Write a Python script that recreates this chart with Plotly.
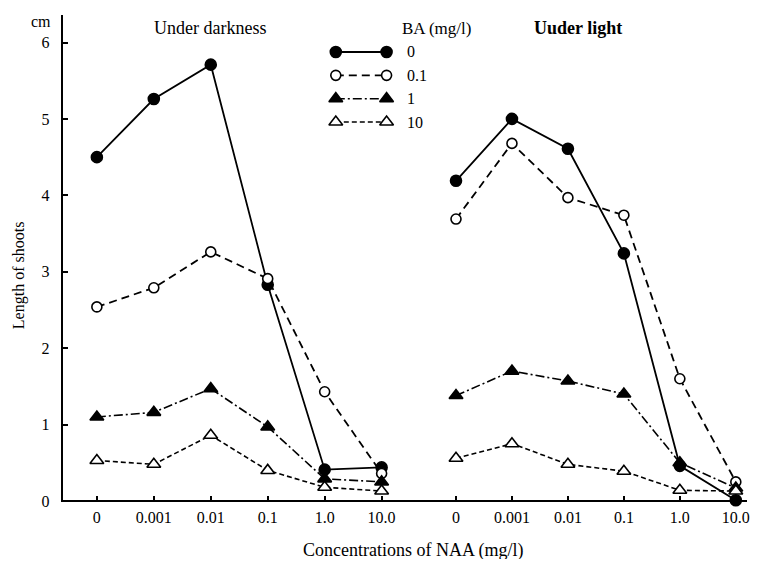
import plotly.graph_objects as go

# ---- data ----
naa_levels = ["0", "0.001", "0.01", "0.1", "1.0", "10.0"]
ba_levels = ["0", "0.1", "1", "10"]

dark_ba0 = [4.50, 5.26, 5.71, 2.83, 0.41, 0.44]
dark_ba01 = [2.54, 2.79, 3.26, 2.91, 1.43, 0.36]
dark_ba1 = [1.10, 1.16, 1.47, 0.97, 0.29, 0.25]
dark_ba10 = [0.53, 0.48, 0.86, 0.40, 0.18, 0.13]

light_ba0 = [4.19, 5.00, 4.61, 3.24, 0.46, 0.01]
light_ba01 = [3.69, 4.68, 3.97, 3.74, 1.60, 0.25]
light_ba1 = [1.38, 1.70, 1.57, 1.40, 0.50, 0.17]
light_ba10 = [0.56, 0.75, 0.48, 0.39, 0.14, 0.13]

y_ticks = [0, 1, 2, 3, 4, 5, 6]

FONT = "Liberation Serif"

styles = [
    dict(symbol="circle", fill="black", size=11, dash="solid", width=1.8),
    dict(symbol="circle", fill="white", size=10, dash="8px,5px", width=1.8),
    dict(symbol="triangle-up", fill="black", size=12, dash="9px,3px,2px,3px", width=1.6),
    dict(symbol="triangle-up", fill="white", size=12, dash="5px,3px", width=1.6),
]

dark = [dark_ba0, dark_ba01, dark_ba1, dark_ba10]
light = [light_ba0, light_ba01, light_ba1, light_ba10]

fig = go.Figure()


def add_series(xs, ys, st, xa, ya, name):
    fig.add_trace(go.Scatter(
        x=xs, y=ys, mode="lines+markers", name=name, showlegend=False,
        xaxis=xa, yaxis=ya, cliponaxis=False,
        line=dict(color="black", width=st["width"], dash=st["dash"]),
        marker=dict(symbol=st["symbol"], size=st["size"], color=st["fill"],
                    line=dict(color="black", width=1.6)),
    ))


for i, st in enumerate(styles):
    add_series(naa_levels, dark[i], st, "x", "y", "BA " + ba_levels[i])
    add_series(naa_levels, light[i], st, "x2", "y", "BA " + ba_levels[i])

# custom legend drawn on its own small axis: two markers per row
for i, st in enumerate(styles):
    add_series([0, 1], [i, i], st, "x3", "y3", "legend " + ba_levels[i])

# page has an 8px body margin; figure is sized to fit inside the window
OFF = 8
W, H = 758 - 2 * OFF, 567 - 2 * OFF
# plot area in window pixels: left 61, right 750, top 15, bottom 501
L = 61 - OFF
R = 0
T = 15 - OFF
B = H - (501 - OFF)
pw = W - L - R
ph = H - T - B


def px_x(p):
    return (p - OFF - L) / pw


def px_y(p):
    return (H - B - (p - OFF)) / ph


tickfont = dict(family=FONT, size=16, color="black")
hidden = dict(showline=False, showgrid=False, zeroline=False, showticklabels=False, ticks="")

fig.update_layout(
    width=W, height=H,
    margin=dict(l=L, r=R, t=T, b=B),
    plot_bgcolor="white", paper_bgcolor="white",
    font=dict(family=FONT, color="black"),
    xaxis=dict(
        domain=[px_x(62.7), px_x(405.9)], range=[-0.6, 5.4],
        type="category", categoryarray=naa_levels, categoryorder="array",
        showgrid=False, zeroline=False, showline=False,
        ticks="inside", ticklen=5, tickwidth=1.5, tickcolor="black",
        tickfont=tickfont, anchor="y", ticklabelstandoff=5,
        ticklabeloverflow="allow",
    ),
    xaxis2=dict(
        domain=[px_x(424.0), 1.0], range=[-0.6, 5.2],
        type="category", categoryarray=naa_levels, categoryorder="array",
        showgrid=False, zeroline=False, showline=False,
        ticks="inside", ticklen=5, tickwidth=1.5, tickcolor="black",
        tickfont=tickfont, anchor="y", ticklabelstandoff=5,
        ticklabeloverflow="allow",
    ),
    yaxis=dict(
        domain=[0, 1], range=[0, 6.36],
        tickvals=y_ticks, ticktext=[str(v) for v in y_ticks],
        showgrid=False, zeroline=False, showline=True, linecolor="black", linewidth=1.8,
        ticks="inside", ticklen=5, tickwidth=1.5, tickcolor="black",
        tickfont=tickfont, anchor="x", position=0, ticklabelstandoff=8,
    ),
    xaxis3=dict(domain=[px_x(337), px_x(388)], range=[0, 1], anchor="y3", **hidden),
    yaxis3=dict(domain=[px_y(133.7), px_y(40.3)], range=[3.5, -0.5], anchor="x3", **hidden),
    shapes=[
        dict(type="line", xref="paper", yref="paper", x0=0, x1=1, y0=0, y1=0,
             line=dict(color="black", width=1.8), layer="above"),
    ],
)

annotations = [
    dict(text="Under darkness", x=px_x(211), y=px_y(28), xref="paper", yref="paper",
         showarrow=False, font=dict(family=FONT, size=18), xanchor="center", yanchor="middle"),
    dict(text="<b>Uuder light</b>", x=px_x(580), y=px_y(28), xref="paper", yref="paper",
         showarrow=False, font=dict(family=FONT, size=18), xanchor="center", yanchor="middle"),
    dict(text="BA (mg/l)", x=px_x(401), y=px_y(28), xref="paper", yref="paper",
         showarrow=False, font=dict(family=FONT, size=17), xanchor="left", yanchor="middle"),
    dict(text="cm", x=px_x(41), y=px_y(21), xref="paper", yref="paper",
         showarrow=False, font=dict(family=FONT, size=16), xanchor="center", yanchor="middle"),
    dict(text="Length of shoots", x=px_x(19), y=px_y(275), xref="paper", yref="paper",
         showarrow=False, textangle=-90, font=dict(family=FONT, size=16),
         xanchor="center", yanchor="middle"),
    dict(text="Concentrations of NAA (mg/l)", x=px_x(415), y=px_y(550), xref="paper", yref="paper",
         showarrow=False, font=dict(family=FONT, size=18), xanchor="center", yanchor="middle"),
]
for i, lab in enumerate(ba_levels):
    annotations.append(dict(text=lab, x=px_x(407), y=i, xref="paper", yref="y3", showarrow=False,
                            font=dict(family=FONT, size=16), xanchor="left", yanchor="middle"))

fig.update_layout(annotations=annotations)

fig.write_html("out.html")
